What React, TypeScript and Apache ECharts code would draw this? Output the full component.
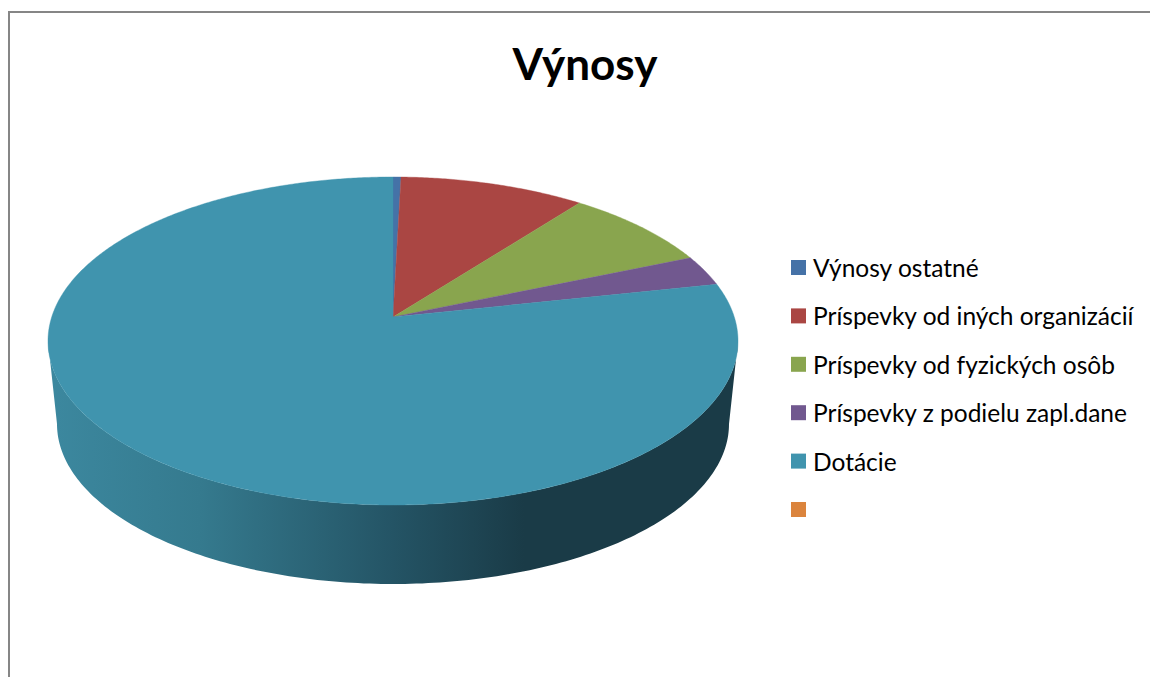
import React, { useEffect, useRef } from "react";
import * as echarts from "echarts";

const titleText = "Výnosy";
const categories = [
  "Výnosy ostatné",
  "Príspevky od iných organizácií",
  "Príspevky od fyzických osôb",
  "Príspevky z podielu zapl.dane",
  "Dotácie",
  " ",
];
const values = [0.43, 10.0, 8.2, 3.0, 78.37, 0];
const colors = ["#4572a7", "#aa4643", "#89a54e", "#71588f", "#4094ae", "#db843d"];

const total = values.reduce((a, b) => a + b, 0);
const CX = 393;
const APEX_Y = 317;
const K = 0.1463;
const A = 160.5;
const B = 341.3;

// perspective projection of a point on the pie's top circle (angle clockwise from the back)
const project = (deg: number): number[] => {
  const t = (deg * Math.PI) / 180;
  const u = Math.sin(t);
  const v = Math.cos(t);
  const d = 1 + K * v;
  return [CX + (B * u) / d, APEX_Y - (A * v) / d];
};

const wallPoints = (): number[][] => {
  const pts: number[][] = [];
  const ty = 341, tr = 345, tb = 164;
  const by = 424, br = 336, bb = 160;
  for (let a = 0; a <= 180; a += 1) {
    const r = (a * Math.PI) / 180;
    pts.push([CX + tr * Math.cos(r), ty + tb * Math.sin(r)]);
  }
  for (let a = 180; a >= 0; a -= 1) {
    const r = (a * Math.PI) / 180;
    pts.push([CX + br * Math.cos(r), by + bb * Math.sin(r)]);
  }
  return pts;
};

const makeRenderItem = (index: number) => (_params: any, api: any) => {
  const before = values.slice(0, index).reduce((a, b) => a + b, 0);
  const value = api.value(0);
  const start = (before / total) * 360;
  const end = ((before + value) / total) * 360;
  const children: any[] = [];
  if (index === 4) {
    children.push({
      type: "polygon",
      shape: { points: wallPoints() },
      style: {
        fill: new echarts.graphic.LinearGradient(0, 0, 1, 0, [
          { offset: 0, color: "#3c889f" },
          { offset: 0.22, color: "#357a8e" },
          { offset: 0.5, color: "#245465" },
          { offset: 0.69, color: "#1a3b47" },
          { offset: 1, color: "#1a3b47" },
        ]),
      },
    });
  }
  if (value > 0) {
    const pts: number[][] = [[CX, APEX_Y]];
    for (let a = start; a < end; a += 0.5) pts.push(project(a));
    pts.push(project(end));
    children.push({
      type: "polygon",
      shape: { points: pts },
      style: { fill: colors[index], stroke: colors[index], lineWidth: 0.4 },
    });
  }
  return { type: "group", children };
};

export default function App() {
  const ref = useRef<HTMLDivElement>(null);
  useEffect(() => {
    const chart = echarts.init(ref.current!, null, { renderer: "svg" });
    chart.setOption({
      animation: false,
      backgroundColor: "#ffffff",
      title: {
        text: titleText,
        left: 585,
        top: 41,
        padding: 0,
        textAlign: "center",
        textStyle: { fontFamily: "Lato", fontWeight: "bold", fontSize: 44, color: "#000000" },
      },
      legend: {
        orient: "vertical",
        left: 791,
        top: 255,
        padding: 0,
        icon: "rect",
        itemWidth: 15,
        itemHeight: 15,
        itemGap: 23.4,
        selectedMode: false,
        data: categories,
        textStyle: { fontFamily: "Lato", fontSize: 24.5, color: "#000000", padding: [0, 0, 0, 2], lineHeight: 25 },
      },
      graphic: [
        {
          type: "rect",
          shape: { x: 9, y: 12, width: 1300, height: 900 },
          style: { fill: "none", stroke: "#868686", lineWidth: 2 },
          silent: true,
          z: -1,
        },
      ],
      series: categories.map((name, i) => ({
        type: "custom",
        name,
        coordinateSystem: "none",
        silent: true,
        itemStyle: { color: colors[i] },
        data: [[values[i]]],
        renderItem: makeRenderItem(i),
      })),
    });
    return () => chart.dispose();
  }, []);
  return (
    <div
      ref={ref}
      style={{ position: "absolute", left: 0, top: 0, width: 1150, height: 677, overflow: "hidden" }}
    />
  );
}
